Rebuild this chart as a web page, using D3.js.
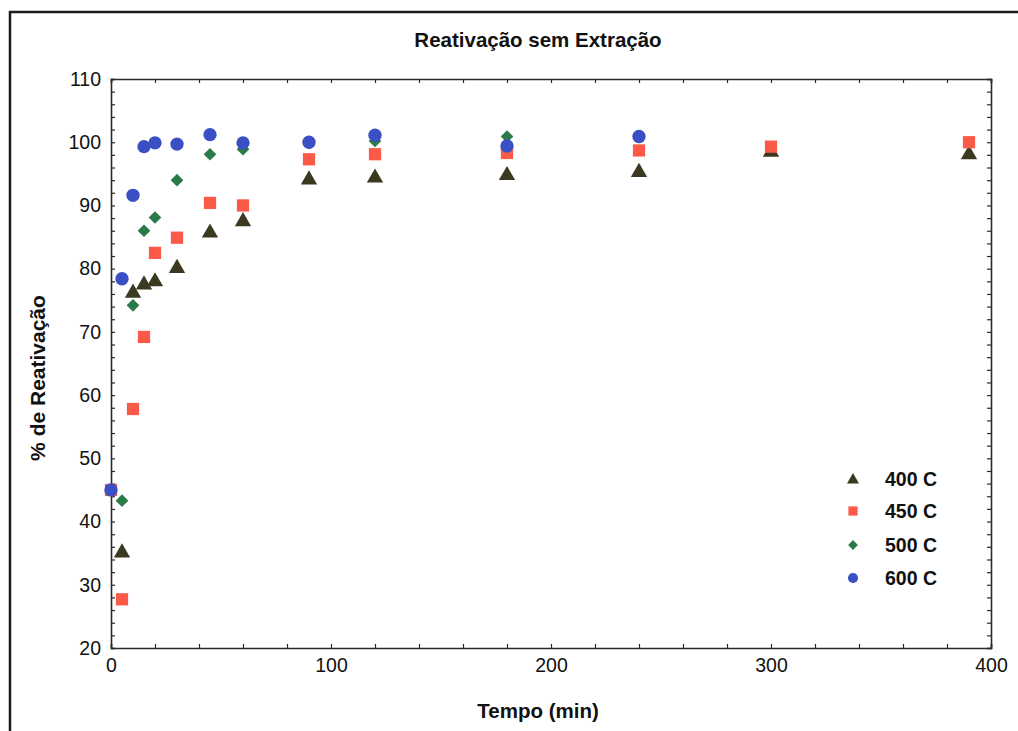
<!DOCTYPE html>
<html>
<head>
<meta charset="utf-8">
<script src="https://cdn.jsdelivr.net/npm/d3@7"></script>
<style>
  html, body { margin: 0; padding: 0; background: #fff; }
  svg { display: block; }
  text { font-family: "Liberation Sans", Arial, sans-serif; fill: #111; }
</style>
</head>
<body>
<svg id="chart" width="1018" height="731"></svg>
<script>
// ---- data ----
const title = "Reativação sem Extração";
const xLabel = "Tempo (min)";
const yLabel = "% de Reativação";
const xTicks = [0, 100, 200, 300, 400];
const yTicks = [20, 30, 40, 50, 60, 70, 80, 90, 100, 110];
const seriesNames = ["400 C", "450 C", "500 C", "600 C"];

const t400 = [5, 10, 15, 20, 30, 45, 60, 90, 120, 180, 240, 300, 390];
const v400 = [35.3, 76.4, 77.7, 78.2, 80.3, 85.9, 87.7, 94.3, 94.6, 95.0, 95.5, 98.7, 98.3];

const t450 = [0, 5, 10, 15, 20, 30, 45, 60, 90, 120, 180, 240, 300, 390];
const v450 = [45.0, 27.7, 57.8, 69.2, 82.5, 84.9, 90.4, 90.0, 97.3, 98.1, 98.3, 98.7, 99.3, 100.0];

const t500 = [5, 10, 15, 20, 30, 45, 60, 90, 120, 180];
const v500 = [43.3, 74.2, 86.0, 88.1, 94.0, 98.1, 98.9, 99.9, 100.2, 100.9];

const t600 = [0, 5, 10, 15, 20, 30, 45, 60, 90, 120, 180, 240];
const v600 = [45.0, 78.4, 91.6, 99.3, 99.9, 99.7, 101.2, 99.9, 100.0, 101.1, 99.4, 100.9];

const seriesTimes = [t400, t450, t500, t600];
const seriesValues = [v400, v450, v500, v600];
const colors = ["#3b3920", "#fb5a48", "#2a7a4a", "#3a4fc4"];
const shapes = [d3.symbolTriangle, d3.symbolSquare, d3.symbolSquare, d3.symbolCircle];
const rotations = [0, 0, 45, 0];
const sizes = [115, 150, 80, 140];
const legendSizes = [62, 85, 48, 80];

// ---- layout ----
const svg = d3.select("#chart");
const L = 111, R = 991, T = 79, B = 648;

const x = d3.scaleLinear().domain([0, 400]).range([L, R]);
const y = d3.scaleLinear().domain([20, 110]).range([B, T]);

// outer frame
svg.append("rect")
  .attr("x", 10).attr("y", 12).attr("width", 1030).attr("height", 740)
  .attr("fill", "none").attr("stroke", "#1a1a1a").attr("stroke-width", 2.5);

// title
svg.append("text")
  .attr("x", 538).attr("y", 47)
  .attr("text-anchor", "middle")
  .style("font-size", "20.5px").style("font-weight", "bold")
  .text(title);

// axes
const minorX = d3.range(0, 401, 20);
const minorY = d3.range(20, 111, 2);

const gB = svg.append("g").attr("transform", `translate(0,${B})`)
  .call(d3.axisBottom(x).tickValues(minorX).tickSize(-4).tickFormat(""));
const gT = svg.append("g").attr("transform", `translate(0,${T})`)
  .call(d3.axisTop(x).tickValues(minorX).tickSize(-4).tickFormat(""));
const gL = svg.append("g").attr("transform", `translate(${L},0)`)
  .call(d3.axisLeft(y).tickValues(minorY).tickSize(-4).tickFormat(""));
const gR = svg.append("g").attr("transform", `translate(${R},0)`)
  .call(d3.axisRight(y).tickValues(minorY).tickSize(-4).tickFormat(""));
[gB, gT, gL, gR].forEach(g => {
  g.select(".domain").attr("stroke", "#2a2a2a").attr("stroke-width", 1.6);
  g.selectAll(".tick line").attr("stroke", "#2a2a2a").attr("stroke-width", 1.2);
});

// tick labels
svg.append("g").attr("transform", `translate(0,${B})`)
  .call(d3.axisBottom(x).tickValues(xTicks).tickSize(0).tickPadding(10).tickFormat(d3.format("d")))
  .call(g => g.select(".domain").remove())
  .selectAll("text")
  .style("font-size", "19.5px").style("font-family", "'Liberation Sans', Arial, sans-serif").attr("fill", "#111");

svg.append("g").attr("transform", `translate(${L},0)`)
  .call(d3.axisLeft(y).tickValues(yTicks).tickSize(0).tickPadding(10).tickFormat(d3.format("d")))
  .call(g => g.select(".domain").remove())
  .selectAll("text")
  .style("font-size", "19.5px").style("font-family", "'Liberation Sans', Arial, sans-serif").attr("fill", "#111");

// axis titles
svg.append("text")
  .attr("x", 538).attr("y", 718)
  .attr("text-anchor", "middle")
  .style("font-size", "20.5px").style("font-weight", "bold")
  .text(xLabel);

svg.append("text")
  .attr("transform", "translate(45,378) rotate(-90)")
  .attr("text-anchor", "middle")
  .style("font-size", "21px").style("font-weight", "bold")
  .text(yLabel);

// points
seriesNames.forEach((name, i) => {
  const pts = seriesTimes[i].map((t, j) => ({ t, v: seriesValues[i][j] }));
  const sym = d3.symbol().type(shapes[i]).size(sizes[i]);
  svg.append("g").selectAll("path").data(pts).join("path")
    .attr("d", sym)
    .attr("transform", d => `translate(${x(d.t)},${y(d.v) + (i === 0 ? 1.5 : 0)}) rotate(${rotations[i]})`)
    .attr("fill", colors[i]);
});

// legend
const legY = [479, 511, 545, 578];
seriesNames.forEach((name, i) => {
  const sym = d3.symbol().type(shapes[i]).size(legendSizes[i]);
  svg.append("path")
    .attr("d", sym)
    .attr("transform", `translate(853,${legY[i] + (i === 0 ? 1 : 0)}) rotate(${rotations[i]})`)
    .attr("fill", colors[i]);
  svg.append("text")
    .attr("x", 885).attr("y", legY[i])
    .attr("dy", "0.36em")
    .style("font-size", "19.5px").style("font-weight", "bold")
    .text(name);
});
</script>
</body>
</html>
